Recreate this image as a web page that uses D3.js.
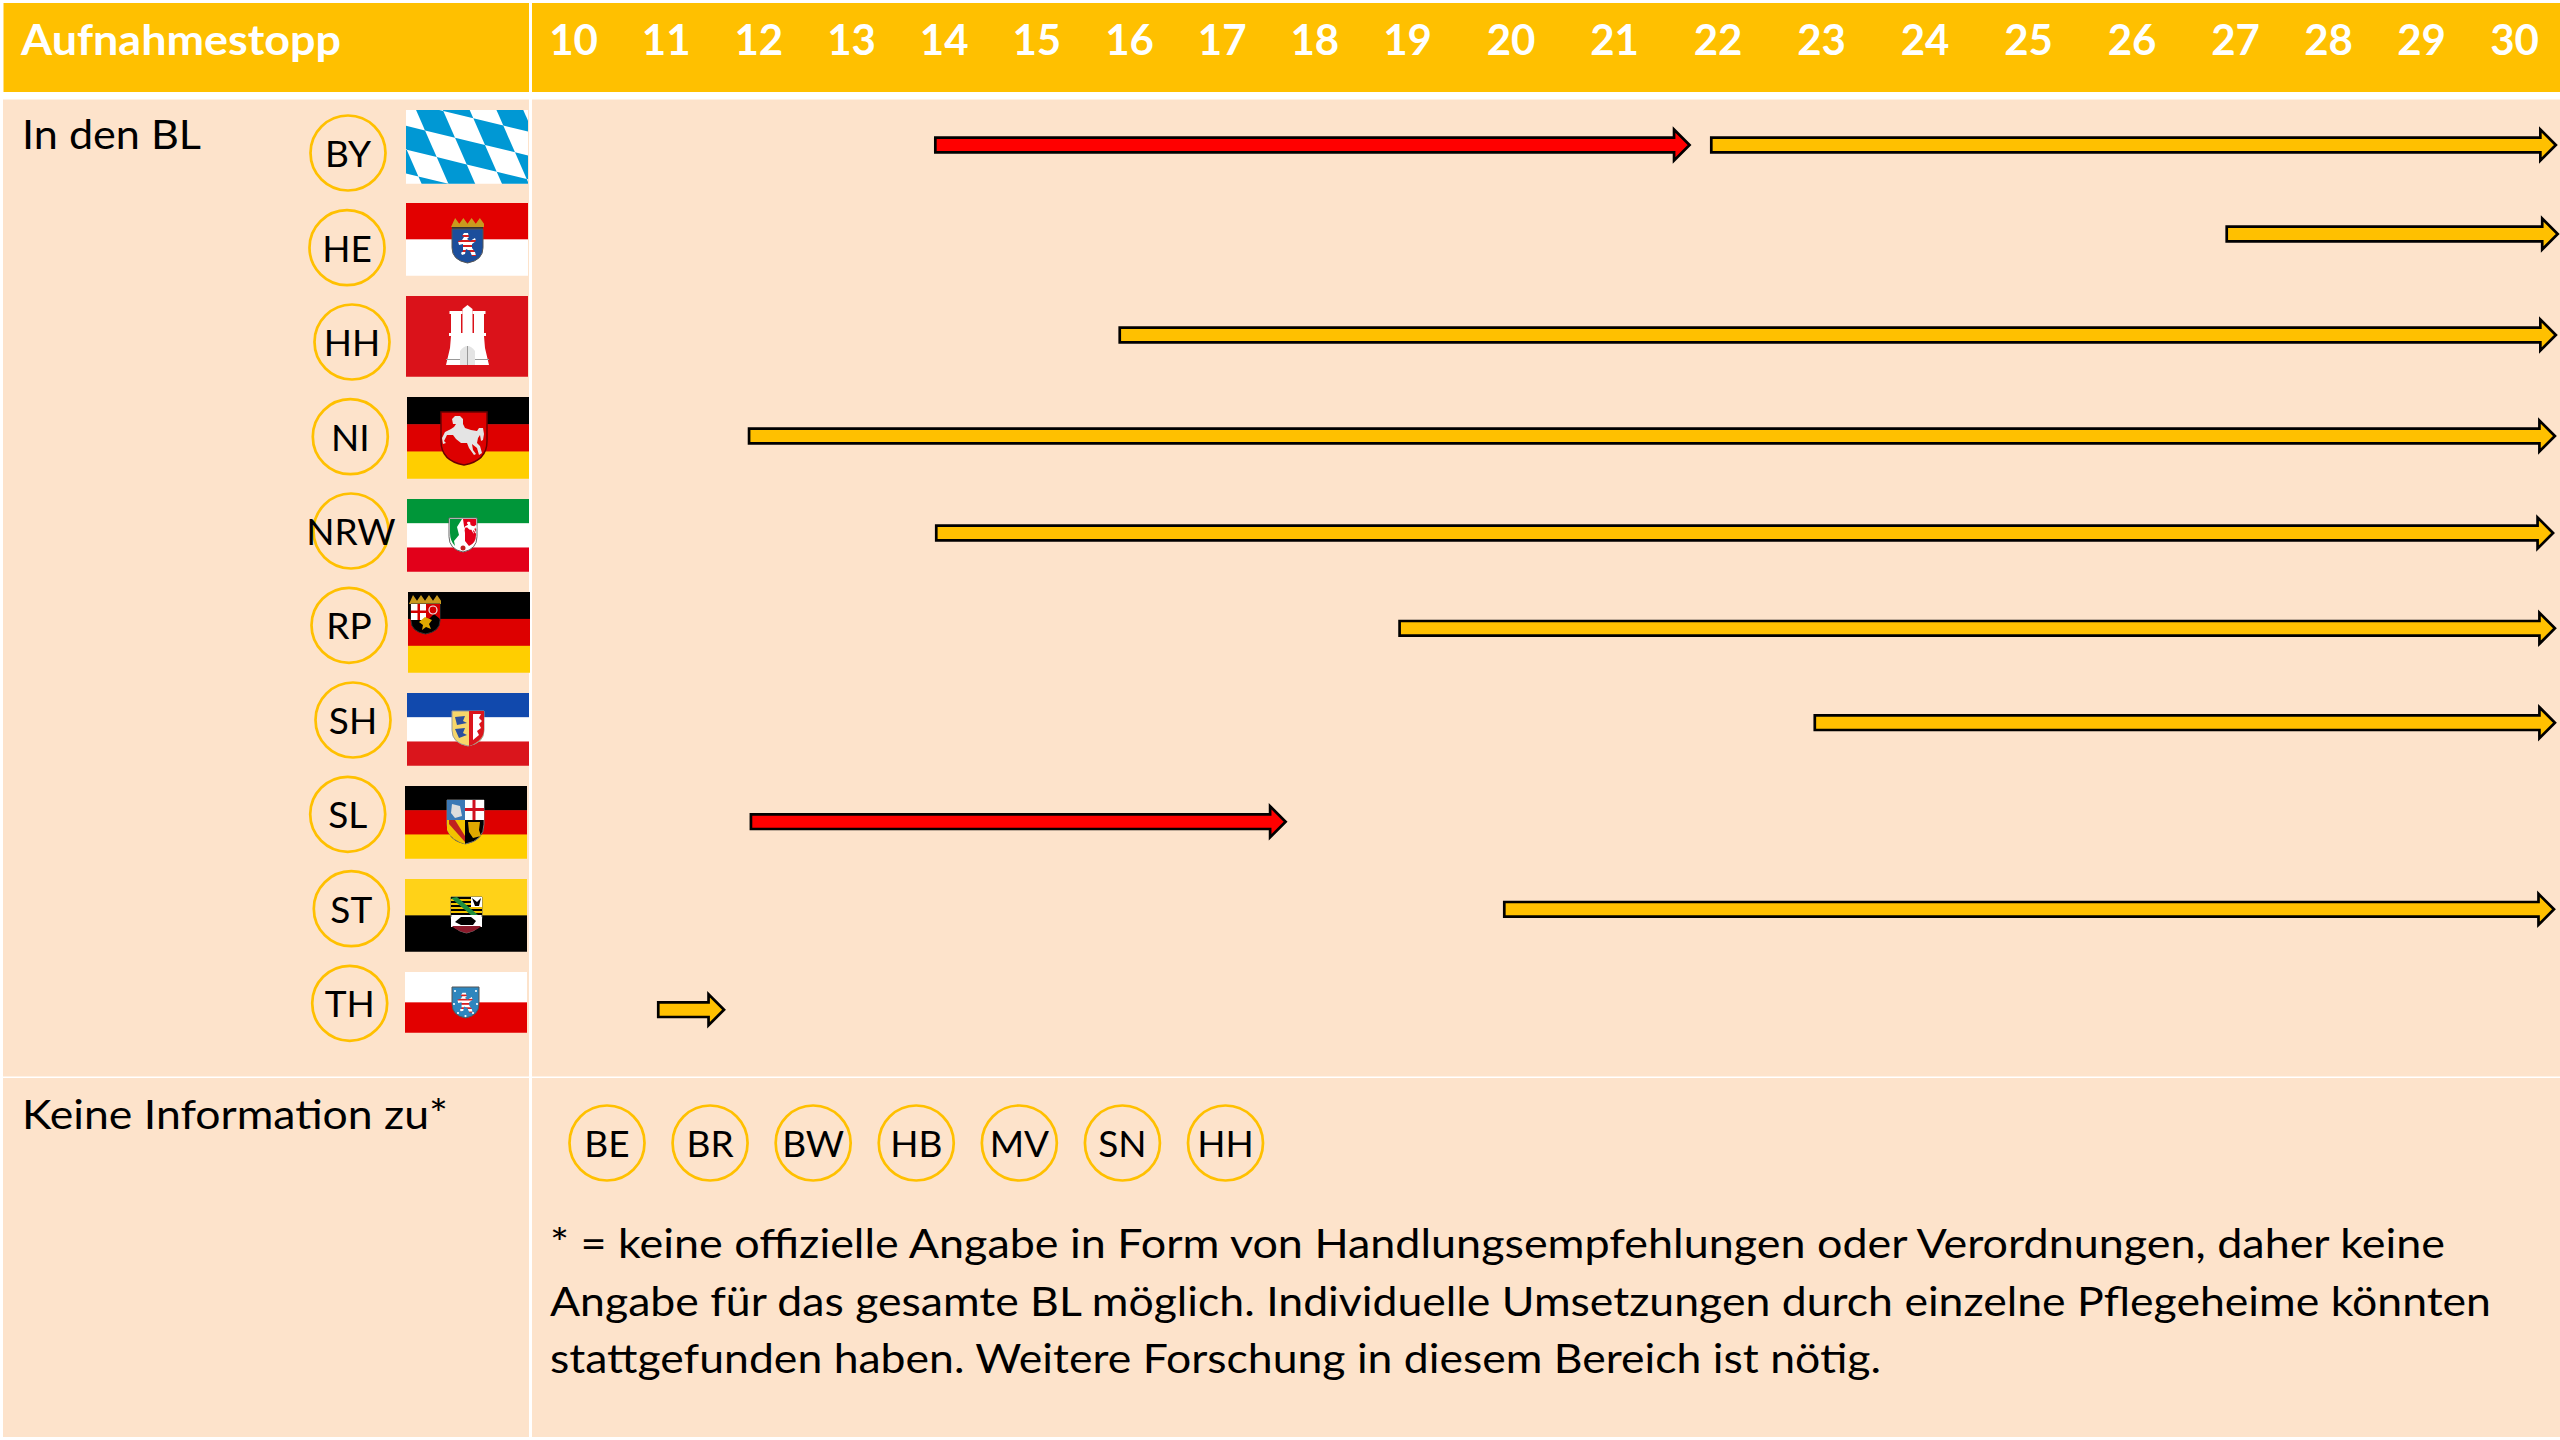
<!DOCTYPE html>
<html>
<head>
<meta charset="utf-8">
<script src="https://d3js.org/d3.v7.min.js"></script>
<style>
    html, body { margin: 0; padding: 0; background: #fff; }
    svg { display: block; }
    text { font-family: Lato, "Open Sans", sans-serif; fill: #000; }
    .head { font-weight: 700; fill: #fff; font-size: 42px; }
    .label { font-size: 41px; }
    .code { font-size: 37px; text-anchor: middle; }
</style>
</head>
<body>
<svg id="chart" width="2560" height="1440"></svg>

<script>
    // data
    const days = [10, 11, 12, 13, 14, 15, 16, 17, 18, 19, 20, 21, 22, 23, 24, 25, 26, 27, 28, 29, 30];
    const states = ['BY', 'HE', 'HH', 'NI', 'NRW', 'RP', 'SH', 'SL', 'ST', 'TH'];
    const noInfo = ['BE', 'BR', 'BW', 'HB', 'MV', 'SN', 'HH'];

    // one row per arrow: state, first day, last day, kind
    const arrowState = ['BY', 'BY', 'HE', 'HH', 'NI', 'NRW', 'RP', 'SH', 'SL', 'ST', 'TH'];
    const arrowStart = [13.91, 21.94, 26.92, 15.90, 11.90, 13.92, 18.92, 22.94, 11.92, 19.94, 10.92];
    const arrowEnd = [21.73, 30.45, 30.47, 30.45, 30.44, 30.42, 30.44, 30.44, 17.69, 30.43, 11.63];
    const arrowKind = ['red', 'open', 'open', 'open', 'open', 'open', 'open', 'open', 'red', 'open', 'open'];

    const titleText = 'Aufnahmestopp';
    const rowTitle = 'In den BL';
    const noInfoTitle = 'Keine Information zu*';
    const noteLines = [
        '* = keine offizielle Angabe in Form von Handlungsempfehlungen oder Verordnungen, daher keine',
        'Angabe für das gesamte BL möglich. Individuelle Umsetzungen durch einzelne Pflegeheime könnten',
        'stattgefunden haben. Weitere Forschung in diesem Bereich ist nötig.'
    ];

    const amber = '#FFC000';
    const cell = '#FDE3CB';

    let svg = d3.select('#chart');

    // the day labels in the slide are not evenly spaced, so the scale has three pieces
    let x = d3.scaleLinear().domain([10, 19, 27, 30]).range([573, 1407, 2235, 2514]);

    // rows were placed by hand in the original
    let arrowY = d3.scaleOrdinal(states, [145, 234, 335, 436, 533, 628.3, 722.7, 821.7, 909.3, 1009.7]);
    let circleX = d3.scaleOrdinal(states, [348, 347, 352, 350.3, 351, 349, 353, 347.7, 351.3, 349.7]);
    let circleY = d3.scaleOrdinal(states, [153, 247.7, 342, 436.7, 531, 625.3, 720, 814.3, 908.7, 1003.3]);
    let flagX = d3.scaleOrdinal(states, [406, 406, 406, 407, 407, 408, 407, 405, 405, 405]);
    let flagY = d3.scaleOrdinal(states, [110, 203, 296, 397, 499, 592, 693, 786, 879, 972]);
    let flagH = d3.scaleOrdinal(states, [73.7, 72.7, 80.7, 81.7, 72.7, 80.7, 72.7, 72.7, 72.7, 60.7]);
    let noInfoX = d3.scalePoint().domain(d3.range(noInfo.length)).range([607, 1225.5]);

    const flagW = 122;
    const stripes = {
        BY: ['#fff'],
        HE: ['#E20000', '#fff'],
        HH: ['#DA121A'],
        NI: ['#000', '#DD0000', '#FFCE00'],
        NRW: ['#009639', '#fff', '#E2001A'],
        RP: ['#000', '#DD0000', '#FFCE00'],
        SH: ['#1149AD', '#fff', '#DA151C'],
        SL: ['#000', '#DD0000', '#FFCE00'],
        ST: ['#FFD218', '#000'],
        TH: ['#fff', '#E20000']
    };

    //---------table background
    function drawTable() {
        let cells = [
            [3.5, 3, 525.5, 89, amber], [532, 3, 2028, 89, amber],
            [3, 99.5, 526, 977, cell], [532, 99.5, 2028, 977, cell],
            [3, 1078, 526, 359, cell], [532, 1078, 2028, 359, cell]
        ];
        svg.selectAll('.cell').data(cells).enter().append('rect')
            .attr('class', 'cell')
            .attr('x', d => d[0]).attr('y', d => d[1])
            .attr('width', d => d[2]).attr('height', d => d[3])
            .attr('fill', d => d[4]);
    }

    function drawHeader() {
        svg.append('text').attr('class', 'head')
            .attr('x', 21).attr('y', 55)
            .attr('textLength', 320).attr('lengthAdjust', 'spacingAndGlyphs')
            .text(titleText);

        let axis = d3.axisBottom(x).tickValues(days).tickSize(0).tickFormat(d3.format('d'));
        let g = svg.append('g').attr('transform', 'translate(0,55)').call(axis);
        g.select('.domain').remove();
        g.selectAll('text')
            .attr('class', 'head')
            .attr('y', 0).attr('dy', 0);
        g.attr('font-family', null).attr('font-size', null);
    }

    //---------arrows
    function arrowPath(d) {
        let x0 = x(d.start), x1 = x(d.end), y = arrowY(d.state);
        let shaft = 7.3, head = 15.5, len = 15.5;
        return d3.line()([
            [x0, y - shaft], [x1 - len, y - shaft], [x1 - len, y - head], [x1, y],
            [x1 - len, y + head], [x1 - len, y + shaft], [x0, y + shaft]
        ]) + 'Z';
    }

    function drawArrows() {
        let rows = arrowState.map((s, i) => ({state: s, start: arrowStart[i], end: arrowEnd[i], kind: arrowKind[i]}));
        svg.append('g').selectAll('path').data(rows).enter().append('path')
            .attr('d', arrowPath)
            .attr('fill', d => d.kind === 'red' ? '#FF0000' : amber)
            .attr('stroke', '#000')
            .attr('stroke-width', 2.7);
    }

    //---------state codes
    function drawCodes() {
        let g = svg.append('g');
        g.selectAll('circle').data(states).enter().append('circle')
            .attr('cx', d => circleX(d)).attr('cy', d => circleY(d))
            .attr('r', 37.5).attr('fill', 'none').attr('stroke', amber).attr('stroke-width', 2.7);
        g.selectAll('text').data(states).enter().append('text')
            .attr('class', 'code')
            .attr('x', d => circleX(d)).attr('y', d => circleY(d) + 14)
            .text(d => d);

        let n = svg.append('g');
        n.selectAll('circle').data(noInfo).enter().append('circle')
            .attr('cx', (d, i) => noInfoX(i)).attr('cy', 1143)
            .attr('r', 37.5).attr('fill', 'none').attr('stroke', amber).attr('stroke-width', 2.7);
        n.selectAll('text').data(noInfo).enter().append('text')
            .attr('class', 'code')
            .attr('x', (d, i) => noInfoX(i)).attr('y', 1157)
            .text(d => d);
    }

    //---------flags
    function shield(g, x0, x1, top, bottom, fill, stroke) {
        let cx = (x0 + x1) / 2, h = bottom - top;
        return g.append('path')
            .attr('d', `M${x0},${top}H${x1}V${top + h * 0.55}Q${x1},${top + h * 0.92} ${cx},${bottom}Q${x0},${top + h * 0.92} ${x0},${top + h * 0.55}Z`)
            .attr('fill', fill)
            .attr('stroke', stroke || 'none')
            .attr('stroke-width', stroke ? 1 : 0);
    }
    function poly(g, d, fill) { return g.append('path').attr('d', d).attr('fill', fill); }
    function box(g, x0, y0, w, h, fill) {
        return g.append('rect').attr('x', x0).attr('y', y0).attr('width', w).attr('height', h).attr('fill', fill);
    }
    function crown(g, x0, x1, y0, y1) {
        let w = (x1 - x0) / 4, d = `M${x0},${y1}`;
        for (let i = 0; i < 4; i++) d += `L${x0 + w * i + w / 2},${y0}L${x0 + w * (i + 1)},${y1 - (y1 - y0) * 0.35}`;
        d += `L${x1},${y1}Z`;
        poly(g, d, '#C99A1E');
    }
    const horse = 'M45,22L48,19L53,19L56,22L56,27L58,31L64,33L70,34L72,31L76,31L77,37L76,43L74,44L73,38L71,41L70,46L73,49L75,56L72,58L70,51L65,47L66,53L69,57L67,58L62,51L60,46L54,46L49,42L46,38L40,38L37,44L39,46L36,47L35,41L38,35L44,32L47,30L49,27L46,27Z';
    const lionShape = 'M7,1L11,1L12,5L10,7L13,9L18,6L19,9L15,12L15,16L18,20L19,24L15,24L13,19L9,17L8,22L5,23L4,21L6,19L6,12L2,13L1,9L5,8L7,5L5,4Z';

    function lion(g, left, top, s) {
        g.append('path').attr('d', lionShape)
            .attr('transform', `translate(${left},${top}) scale(${s})`)
            .attr('fill', 'url(#lionBars)');
    }

    const emblems = {
        BY(g) {
            // lozenge lattice, measured from the flag
            let ax = 30, ay = 7.3, bx = 11.7, by = 26.7, ox = 37.3, oy = 1;
            for (let i = -5; i < 7; i++) for (let j = -5; j < 7; j++) {
                if (((i + j) % 2 + 2) % 2 === 0) continue;
                let px = ox + i * ax + j * bx, py = oy + i * ay + j * by;
                poly(g, `M${px},${py}l${ax},${ay}l${bx},${by}l${-ax},${-ay}Z`, '#0098D4');
            }
        },
        HE(g) {
            crown(g, 45, 78, 15, 24);
            box(g, 46, 24, 31, 2, '#333');
            shield(g, 46, 77, 26, 60, '#1C4E9C', '#555');
            lion(g, 51, 29, 1);
        },
        HH(g) {
            let w = '#fff';
            box(g, 45, 17, 10, 22, w); box(g, 56.5, 13, 10, 26, w); box(g, 68, 17, 10, 22, w);
            poly(g, 'M56.5,13L61.5,9L66.5,13Z', w);
            box(g, 43.5, 15, 13, 3, w); box(g, 66.5, 15, 13, 3, w);
            box(g, 43, 37, 37, 3, w);
            poly(g, 'M45,40H78L79,52L83,69H40L44,52Z', w);
            box(g, 40, 63, 43, 1, '#999');
            poly(g, 'M54,69V55Q61.5,45 69,55V69Z', '#e4e4e4');
            g.append('path').attr('d', 'M61.5,50V69').attr('stroke', '#999').attr('stroke-width', 1);
        },
        NI(g) {
            shield(g, 34, 80, 15, 68, '#DD0000', '#6b0000').attr('stroke-width', 1.5);
            poly(g, horse, '#E4E4E4');
        },
        NRW(g) {
            shield(g, 42, 70, 19, 53, '#fff', '#666');
            poly(g, 'M43,20H55L50,28L52,36L47,42L48,47Q43,42 43,34Z', '#009639');
            poly(g, 'M56,20H69V36Q69,44 62,47L58,42L58,34Z', '#E2001A');
            g.append('path').attr('d', horse).attr('fill', '#fff')
                .attr('transform', 'translate(46.5,17) scale(0.3)');
            g.append('circle').attr('cx', 56).attr('cy', 49).attr('r', 2.5).attr('fill', '#C02020');
        },
        RP(g) {
            crown(g, 1, 33, 3, 12);
            shield(g, 3, 32, 12, 42, '#000', '#333');
            box(g, 3, 12, 15, 16, '#fff');
            box(g, 9.5, 12, 2.5, 16, '#D40000'); box(g, 3, 18.5, 15, 2.5, '#D40000');
            poly(g, 'M18,12H32V27L26,22L18,30Z', '#D40000');
            g.append('circle').attr('cx', 25).attr('cy', 18).attr('r', 4).attr('fill', 'none').attr('stroke', '#eee').attr('stroke-width', 1.2);
            poly(g, 'M11,30L17,25L24,28L21,32L23,37L18,35L14,38L15,33Z', '#E0A800');
        },
        SH(g) {
            shield(g, 45, 77, 18, 53, '#F7D66A', '#999');
            poly(g, 'M62,18H77V36Q77,48 62,53Z', '#DA151C');
            poly(g, 'M66,21H74L72,25L75,28L72,31L74,35L70,38L72,42L66,47Z', '#fff');
            poly(g, 'M48,24L58,23L56,28L60,30L50,32Z', '#2C4F9E');
            poly(g, 'M48,36L58,35L56,40L60,42L52,45Z', '#2C4F9E');
        },
        SL(g) {
            shield(g, 42, 79, 14, 58, '#000', '#777');
            box(g, 42, 14, 18, 20, '#3B78B5');
            poly(g, 'M47,18L55,20L57,30L50,32L46,27Z', '#ddd');
            box(g, 60, 14, 19, 20, '#fff');
            box(g, 67.5, 14, 3, 20, '#D01020'); box(g, 60, 22, 19, 3, '#D01020');
            poly(g, 'M42,34H60V58Q46,54 42,44Z', '#F2C200');
            poly(g, 'M44,34H50L60,50V56L44,38Z', '#C02020');
            poly(g, 'M63,36L75,36L74,44L76,50L68,52L64,46Z', '#E0A800');
        },
        ST(g) {
            shield(g, 46, 77, 18, 54, '#fff', '#666');
            for (let i = 0; i < 5; i++) box(g, 46, 18 + i * 4, 31, 2, '#000');
            box(g, 46, 20, 31, 2, '#F2C200'); box(g, 46, 24, 31, 2, '#F2C200');
            box(g, 46, 28, 31, 2, '#F2C200'); box(g, 46, 32, 31, 2, '#F2C200');
            poly(g, 'M46,19L52,18L73,36H66Z', '#1E8E3E');
            box(g, 66, 18, 11, 10, '#fff');
            poly(g, 'M67,19L72,23L76,19L74,27H70Z', '#000');
            box(g, 46, 38, 31, 10, '#fff');
            poly(g, 'M50,43L56,38H66L71,42L68,46L56,46Z', '#000');
            poly(g, 'M47,47H76Q73,51 61.5,54Q50,51 47,47Z', '#8B1A2B');
        },
        TH(g) {
            shield(g, 47, 74, 15, 46, '#2E86BE', '#555');
            lion(g, 51.5, 20, 0.85);
            [[50, 19], [71, 19], [49, 32], [72, 32], [53, 41], [68, 41], [60.5, 44]].forEach(p => {
                g.append('circle').attr('cx', p[0]).attr('cy', p[1]).attr('r', 1.1).attr('fill', '#fff');
            });
        }
    };

    function drawFlags() {
        let defs = svg.append('defs');
        let bars = defs.append('pattern').attr('id', 'lionBars')
            .attr('patternUnits', 'userSpaceOnUse').attr('width', 4).attr('height', 5);
        box(bars, 0, 0, 4, 5, '#fff');
        box(bars, 0, 3, 4, 2, '#D82020');

        states.forEach(s => {
            let h = flagH(s);
            defs.append('clipPath').attr('id', 'clip' + s)
                .append('rect').attr('width', flagW).attr('height', h);
            let g = svg.append('g')
                .attr('transform', `translate(${flagX(s)},${flagY(s)})`)
                .attr('clip-path', `url(#clip${s})`);
            let band = d3.scaleBand().domain(stripes[s]).range([0, h]);
            stripes[s].forEach(c => box(g, 0, band(c), flagW, band.bandwidth() + 0.5, c));
            emblems[s](g);
        });
    }

    //---------plain text
    function drawText() {
        svg.append('text').attr('class', 'label').attr('x', 22).attr('y', 149)
            .attr('textLength', 179).attr('lengthAdjust', 'spacingAndGlyphs').text(rowTitle);
        svg.append('text').attr('class', 'label').attr('x', 22).attr('y', 1129)
            .attr('textLength', 426).attr('lengthAdjust', 'spacingAndGlyphs').text(noInfoTitle);

        let lineY = [1258, 1316, 1373], lineW = [1895, 1941, 1331];
        svg.append('g').selectAll('text').data(noteLines).enter().append('text')
            .attr('class', 'label')
            .attr('x', 550)
            .attr('y', (d, i) => lineY[i])
            .attr('textLength', (d, i) => lineW[i])
            .attr('lengthAdjust', 'spacingAndGlyphs')
            .text(d => d);
    }

    drawTable();
    drawHeader();
    drawFlags();
    drawArrows();
    drawCodes();
    drawText();
</script>
</body>
</html>
